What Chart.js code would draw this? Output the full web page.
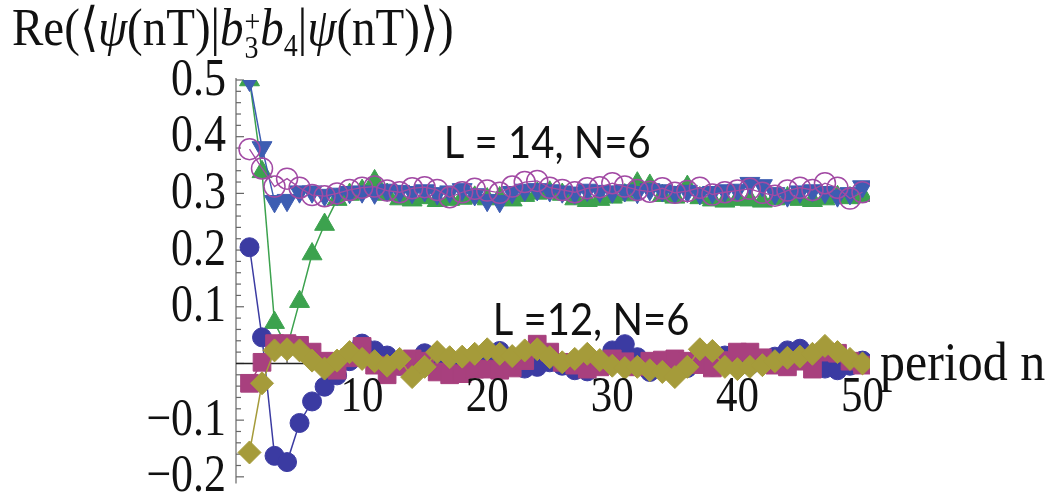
<!DOCTYPE html>
<html>
<head>
<meta charset="utf-8">
<script src="https://cdn.jsdelivr.net/npm/chart.js@4.4.1/dist/chart.umd.min.js"></script>
<style>
  body { margin: 0; background: #fff; }
  #wrap { position: relative; width: 1052px; height: 496px; }
  #ytitle {
    position: absolute; left: 12px; top: -4px;
    font-family: "Liberation Serif", serif; font-size: 47px; color: #111;
    white-space: nowrap;
    transform: scaleY(1.12); transform-origin: 0 0;
  }
  #ytitle .ss { display: inline-block; vertical-align: -11px; font-size: 28px; line-height: 23px; margin-left: 1px; }
  #ytitle .ss span { display: block; }
  #ytitle sub { font-size: 28px; vertical-align: -10px; line-height: 0; }
</style>
</head>
<body>
<div id="wrap">
  <canvas id="chart" width="1052" height="496"></canvas>
  <div id="ytitle">Re(⟨<i>ψ</i>(nT)|<i>b</i><span class="ss"><span>+</span><span>3</span></span><i>b</i><sub>4</sub>|<i>ψ</i>(nT)⟩)</div>
</div>
<script>
// period n
const periods = [1, 2, 3, 4, 5, 6, 7, 8, 9, 10, 11, 12, 13, 14, 15, 16, 17, 18, 19, 20,
  21, 22, 23, 24, 25, 26, 27, 28, 29, 30, 31, 32, 33, 34, 35, 36, 37, 38, 39, 40,
  41, 42, 43, 44, 45, 46, 47, 48, 49, 50];

// L = 14, N = 6
const l14TriDown = [0.500, 0.381, 0.286, 0.288, 0.303, 0.303, 0.297, 0.299, 0.302, 0.303,
  0.301, 0.306, 0.304, 0.302, 0.305, 0.300, 0.303, 0.307, 0.298, 0.288,
  0.286, 0.302, 0.306, 0.307, 0.305, 0.303, 0.301, 0.306, 0.304, 0.303,
  0.305, 0.302, 0.307, 0.305, 0.302, 0.304, 0.300, 0.302, 0.305, 0.306,
  0.318, 0.314, 0.300, 0.296, 0.303, 0.305, 0.302, 0.296, 0.300, 0.312];
const l14OpenCircles = [0.378, 0.344, 0.312, 0.326, 0.310, 0.297, 0.295, 0.300, 0.306, 0.310,
  0.312, 0.305, 0.302, 0.309, 0.311, 0.306, 0.293, 0.302, 0.308, 0.305,
  0.301, 0.312, 0.320, 0.322, 0.310, 0.306, 0.302, 0.309, 0.311, 0.318,
  0.312, 0.306, 0.303, 0.309, 0.301, 0.304, 0.310, 0.298, 0.302, 0.305,
  0.308, 0.301, 0.296, 0.305, 0.310, 0.306, 0.318, 0.310, 0.291, 0.302];
const l14TriUp = [0.500, 0.338, 0.072, 0.028, 0.109, 0.193, 0.245, 0.289, 0.298, 0.305,
  0.322, 0.298, 0.290, 0.288, 0.292, 0.287, 0.289, 0.291, 0.293, 0.290,
  0.292, 0.288, 0.296, 0.300, 0.302, 0.298, 0.290, 0.287, 0.289, 0.293,
  0.297, 0.318, 0.314, 0.296, 0.293, 0.312, 0.292, 0.288, 0.286, 0.289,
  0.288, 0.286, 0.290, 0.292, 0.289, 0.287, 0.290, 0.294, 0.292, 0.296];

// L = 12, N = 6
const l12Diamonds = [-0.157, -0.035, 0.023, 0.025, 0.023, 0.005, -0.009, 0.005, 0.020, 0.008,
  0.004, -0.004, 0.008, -0.024, -0.006, 0.020, 0.011, 0.012, 0.017, 0.025,
  0.017, 0.013, 0.023, 0.025, 0.011, 0.002, 0.008, 0.017, 0.006, -0.004,
  -0.008, -0.006, -0.012, -0.015, -0.024, -0.006, 0.025, 0.022, -0.006, -0.010,
  -0.006, -0.003, 0.004, 0.010, 0.012, 0.017, 0.031, 0.020, 0.008, 0.000];
const l12Squares = [-0.035, 0.002, 0.035, 0.035, 0.032, 0.020, 0.004, -0.012, 0.010, 0.030,
  -0.003, -0.020, -0.005, 0.008, 0.004, -0.015, -0.020, -0.018, -0.010, -0.010,
  -0.012, -0.008, 0.005, 0.034, 0.020, 0.002, -0.003, -0.010, -0.006, 0.008,
  0.003, -0.006, 0.004, 0.006, 0.008, 0.004, -0.002, -0.008, 0.005, 0.020,
  0.020, 0.010, -0.003, -0.006, 0.004, -0.010, 0.020, 0.018, 0.004, -0.003];
const l12Circles = [0.205, 0.046, -0.163, -0.174, -0.105, -0.067, -0.041, -0.021, 0.004, 0.035,
  0.023, 0.014, -0.004, -0.010, 0.018, 0.002, -0.006, 0.004, 0.008, -0.002,
  0.022, -0.004, -0.009, -0.006, 0.002, -0.004, -0.012, -0.014, 0.004, 0.023,
  0.034, 0.011, -0.015, -0.004, 0.002, -0.008, 0.004, -0.006, 0.014, 0.006,
  -0.003, 0.004, 0.012, 0.023, 0.026, 0.008, -0.009, -0.012, -0.004, 0.005];

// axis ticks
const xTickValues = [10, 20, 30, 40, 50];
const xTickLabels = ["10", "20", "30", "40", "50"];
const yTickValues = [0.5, 0.4, 0.3, 0.2, 0.1, -0.1, -0.2];
const yTickLabels = ["0.5", "0.4", "0.3", "0.2", "0.1", "\u22120.1", "\u22120.2"];

const xAxisTitle = "period n";
const seriesLabels = [
  { text: "L = 14, N=6", x: 24.8, y: 0.387 },
  { text: "L =12, N=6", x: 28.3, y: 0.075 },
];

const serifFont = '"Liberation Serif", "DejaVu Serif", serif';

function toPoints(values) {
  return periods.map((n, i) => ({ x: n, y: values[i] }));
}

// draw text stretched vertically, like the original figure
function tallText(ctx, text, px, py, sy) {
  ctx.save();
  ctx.translate(px, py);
  ctx.scale(1, sy);
  ctx.fillText(text, 0, 0);
  ctx.restore();
}

// Mathematica-style axes crossing at the origin
const axesPlugin = {
  id: "mmaAxes",
  beforeDatasetsDraw(chart) {
    const { ctx, scales: { x, y } } = chart;
    const x0 = x.getPixelForValue(0) - 1;
    const y0 = Math.round(y.getPixelForValue(0)) + 0.5;
    ctx.save();

    // vertical axis
    ctx.strokeStyle = "#666";
    ctx.lineWidth = 1.2;
    ctx.beginPath();
    ctx.moveTo(x0, y.top - 2);
    ctx.lineTo(x0, y.bottom + 1);
    ctx.stroke();
    for (let k = -10; k <= 25; k++) {
      const py = y.getPixelForValue(k * 0.02);
      const len = k % 5 === 0 ? 8 : 5;
      ctx.beginPath();
      ctx.moveTo(x0, py);
      ctx.lineTo(x0 + len, py);
      ctx.stroke();
    }

    // horizontal axis
    ctx.strokeStyle = "#222";
    ctx.lineWidth = 1.5;
    ctx.beginPath();
    ctx.moveTo(x0, y0);
    ctx.lineTo(x.right, y0);
    ctx.stroke();
    ctx.lineWidth = 1.2;
    ctx.strokeStyle = "#444";
    for (let n = 2; n <= 50; n += 2) {
      const px = x.getPixelForValue(n);
      const len = n % 10 === 0 ? 7 : 4;
      ctx.beginPath();
      ctx.moveTo(px, y0);
      ctx.lineTo(px, y0 - len);
      ctx.stroke();
    }
    ctx.restore();
  },
  afterDraw(chart) {
    const { ctx, scales: { x, y } } = chart;
    const x0 = x.getPixelForValue(0);
    const y0 = y.getPixelForValue(0);
    ctx.save();
    ctx.fillStyle = "#111";
    ctx.font = "44px " + serifFont;

    ctx.textAlign = "right";
    ctx.textBaseline = "middle";
    yTickValues.forEach((v, i) => {
      tallText(ctx, yTickLabels[i], x0 - 11, y.getPixelForValue(v) + 1, 1.18);
    });

    ctx.font = "43px " + serifFont;
    ctx.textAlign = "center";
    ctx.textBaseline = "top";
    xTickValues.forEach((v, i) => {
      tallText(ctx, xTickLabels[i], x.getPixelForValue(v), y0 + 8, 1.2);
    });

    ctx.font = "50px " + serifFont;
    ctx.textAlign = "left";
    ctx.textBaseline = "middle";
    tallText(ctx, xAxisTitle, x.right + 10, y0 + 2, 1.1);

    ctx.font = "40px Lato";
    ctx.textAlign = "center";
    seriesLabels.forEach(l => {
      tallText(ctx, l.text, x.getPixelForValue(l.x), y.getPixelForValue(l.y), 1.1);
    });
    ctx.restore();
  },
};

function series(values, color, style, radius, extra) {
  return Object.assign({
    data: toPoints(values),
    borderColor: color,
    backgroundColor: color,
    borderWidth: 1.5,
    pointStyle: style,
    pointRadius: radius,
    pointBackgroundColor: color,
    pointBorderColor: color,
    pointBorderWidth: 1,
    tension: 0,
    fill: false,
  }, extra || {});
}

const ctx = document.getElementById("chart").getContext("2d");
const chart = new Chart(ctx, {
  type: "line",
  data: {
    datasets: [
      // first in the list is drawn on top
      series(l12Diamonds, "#a59b3a", "rectRot", 11.5),
      series(l12Squares, "#a8407e", "rect", 12.5),
      series(l12Circles, "#3b3ba2", "circle", 9.5),
      series(l14OpenCircles, "#a24aa4", "circle", 10.5, { pointBackgroundColor: "rgba(255,255,255,0)", pointBorderWidth: 1.5, borderWidth: 1.3 }),
      series(l14TriDown, "#3d5db2", "triangle", 11.5, { pointRotation: 180 }),
      series(l14TriUp, "#3ca24e", "triangle", 11.5),
    ],
  },
  options: {
    responsive: false,
    animation: false,
    events: [],
    layout: { padding: { left: 237, right: 182, top: 80, bottom: 7 } },
    scales: {
      x: { type: "linear", min: 0, max: 50.6, display: false },
      y: { type: "linear", min: -0.21, max: 0.5, display: false },
    },
    plugins: {
      legend: { display: false },
      tooltip: { enabled: false },
    },
  },
  plugins: [axesPlugin],
});

// redraw once the installed fonts are ready for the canvas
document.fonts.ready.then(() => chart.draw());
</script>
</body>
</html>
